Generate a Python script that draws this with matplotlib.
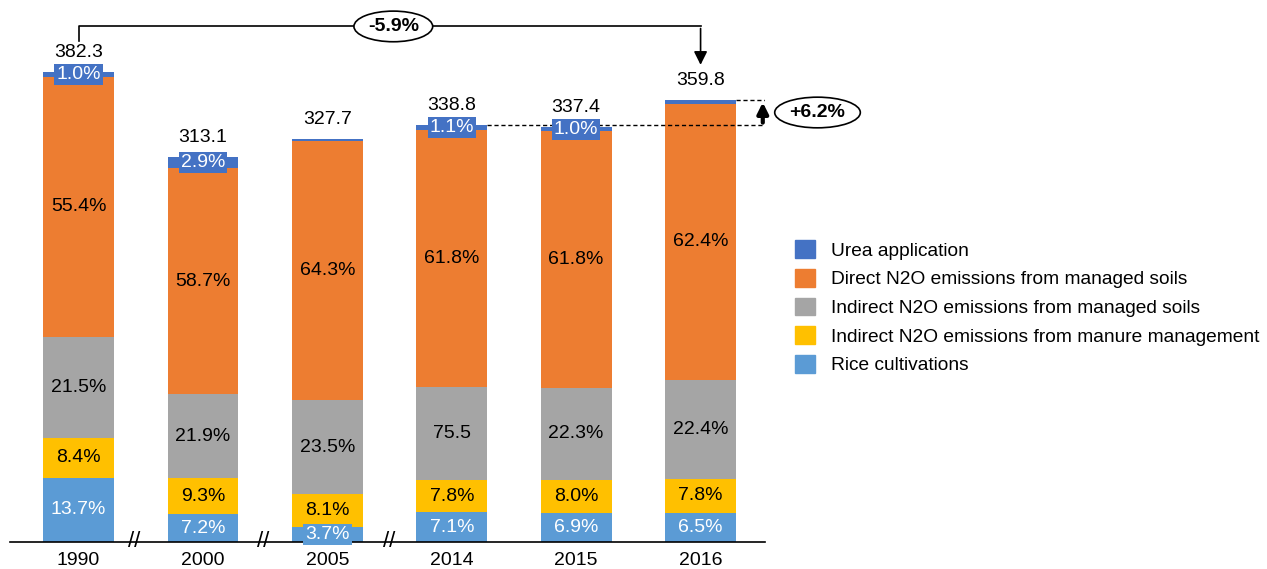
#
# Stacked bar chart of agricultural N2O / urea emissions by source, with change callouts.
#

import matplotlib.pyplot as plt
import numpy as np
from matplotlib.patches import Patch

plt.rcParams['font.family'] = ['Liberation Sans', 'DejaVu Sans']

years = ['1990', '2000', '2005', '2014', '2015', '2016']
totals = [382.3, 313.1, 327.7, 338.8, 337.4, 359.8]

# shares of each source in the yearly total (%)
rice = [13.7, 7.2, 3.7, 7.1, 6.9, 6.5]
manure = [8.4, 9.3, 8.1, 7.8, 8.0, 7.8]
indirect_soils = [21.5, 21.9, 23.5, 22.3, 22.3, 22.4]
direct_soils = [55.4, 58.7, 64.3, 61.8, 61.8, 62.4]
urea = [1.0, 2.9, 0.4, 1.1, 1.0, 0.9]

rice_labels = ['13.7%', '7.2%', '3.7%', '7.1%', '6.9%', '6.5%']
manure_labels = ['8.4%', '9.3%', '8.1%', '7.8%', '8.0%', '7.8%']
indirect_labels = ['21.5%', '21.9%', '23.5%', '75.5', '22.3%', '22.4%']
direct_labels = ['55.4%', '58.7%', '64.3%', '61.8%', '61.8%', '62.4%']
urea_labels = ['1.0%', '2.9%', '', '1.1%', '1.0%', '']

change_total = '-5.9%'
change_recent = '+6.2%'

c_urea = '#4472C4'
c_direct = '#ED7D31'
c_indirect = '#A5A5A5'
c_manure = '#FFC000'
c_rice = '#5B9BD5'

fs = 14

fig = plt.figure(figsize=(12.67, 5.69), dpi=100)
ax = fig.add_axes([0.008, 0.0475, 0.596, 0.935])

x = np.arange(len(years))
width = 0.57
tot = np.array(totals)

series = [
    (rice, c_rice, rice_labels, 'white'),
    (manure, c_manure, manure_labels, 'black'),
    (indirect_soils, c_indirect, indirect_labels, 'black'),
    (direct_soils, c_direct, direct_labels, 'black'),
    (urea, c_urea, urea_labels, 'white'),
]

bottom = np.zeros(len(years))
for shares, color, labels, tcolor in series:
    vals = tot * np.array(shares) / 100.0
    ax.bar(x, vals, width, bottom=bottom, color=color, align='center')
    for i in range(len(years)):
        if labels[i] == '':
            continue
        yc = bottom[i] + vals[i] / 2
        kw = {}
        if color == c_urea or (color == c_rice and i == 2):
            kw['bbox'] = dict(boxstyle='square,pad=0.1', fc=color, ec='none')
        ax.text(x[i], yc, labels[i], ha='center', va='center',
                fontsize=fs, color=tcolor, **kw)
    bottom = bottom + vals

# totals on top
for i in range(len(years)):
    ax.text(x[i], tot[i] + 9, '%.1f' % tot[i], ha='center', va='bottom', fontsize=fs)

# break marks between non-consecutive years
for xb in [0.45, 1.48, 2.5]:
    ax.text(xb, 0, '//', ha='center', va='center', fontsize=16,
            clip_on=False, transform=ax.transData)

# overall change bracket 1990 -> 2016
y_top = tot[0] + 37
ax.plot([x[0], x[0], x[5]], [tot[0] + 25, y_top, y_top], color='black', lw=1.2)
ax.annotate('', xy=(x[5], tot[5] + 26), xytext=(x[5], y_top + 0.6),
            arrowprops=dict(arrowstyle='-|>', color='black', lw=1.2, mutation_scale=20))
ax.text((x[0] + x[5]) / 2 + 0.03, y_top, change_total, ha='center', va='center',
        fontsize=fs, fontweight='bold',
        bbox=dict(boxstyle='ellipse,pad=0.12', fc='white', ec='black', lw=1.2))

# recent change 2014 -> 2016
ax.plot([x[3] + width / 2, 5.5], [tot[3], tot[3]], color='black', lw=1, ls='--', dashes=(3, 2))
ax.plot([x[5] + width / 2, 5.55], [tot[5], tot[5]], color='black', lw=1, ls='--', dashes=(3, 2))
ax.annotate('', xy=(5.5, tot[5]), xytext=(5.5, tot[3]),
            arrowprops=dict(arrowstyle='-|>', color='black', lw=3, mutation_scale=16),
            annotation_clip=False)
ax.text(5.94, (tot[3] + tot[5]) / 2, change_recent, ha='center', va='center',
        fontsize=fs, fontweight='bold', clip_on=False,
        bbox=dict(boxstyle='ellipse,pad=0.12', fc='white', ec='black', lw=1.2))

ax.set_xlim(-0.55, 5.52)
ax.set_ylim(0, 432.7)
ax.set_xticks(x)
ax.set_xticklabels(years, fontsize=fs)
ax.tick_params(axis='x', length=0, pad=7)
ax.set_yticks([])
for s in ['left', 'right', 'top']:
    ax.spines[s].set_visible(False)
ax.spines['bottom'].set_linewidth(1.2)

handles = [Patch(color=c_urea), Patch(color=c_direct), Patch(color=c_indirect),
           Patch(color=c_manure), Patch(color=c_rice)]
names = ['Urea application', 'Direct N2O emissions from managed soils',
         'Indirect N2O emissions from managed soils',
         'Indirect N2O emissions from manure management', 'Rice cultivations']
fig.legend(handles, names, loc='center left', bbox_to_anchor=(0.6215, 0.46),
           frameon=False, fontsize=13.8, handlelength=1.05, handleheight=1.05,
           handletextpad=0.8, labelspacing=0.48, borderaxespad=0)

fig.savefig('out.png', dpi=100)
